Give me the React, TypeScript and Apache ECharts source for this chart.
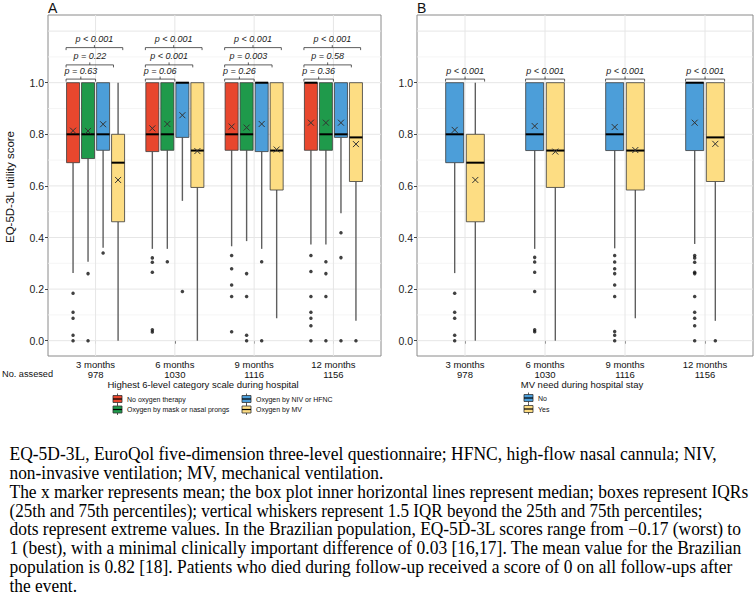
import React, { useEffect, useRef } from "react";
import * as echarts from "echarts";

// ---------- data ----------
const months = ["3 months", "6 months", "9 months", "12 months"];
const assessed = ["978", "1030", "1116", "1156"];
const yTickValues = [0, 0.2, 0.4, 0.6, 0.8, 1.0];
const majorGrid = [0, 0.2, 0.4, 0.6, 0.8, 1.0, 1.2];
const minorGrid = [0.1, 0.3, 0.5, 0.7, 0.9, 1.1];

const groupsA = ["No oxygen therapy", "Oxygen by mask or nasal prongs", "Oxygen by NIV or HFNC", "Oxygen by MV"];
const groupsB = ["No", "Yes"];

// [lower whisker, Q1, median, Q3, upper whisker] per month
const noOxygenStats = [
  [0.262, 0.690, 0.800, 1.0, 1.0],
  [0.356, 0.733, 0.800, 1.0, 1.0],
  [0.366, 0.738, 0.800, 1.0, 1.0],
  [0.373, 0.738, 1.0, 1.0, 1.0],
];
const noOxygenMeans = [0.814, 0.823, 0.830, 0.845];
const noOxygenOutliers = [
  [0.184, 0.110, 0.087, 0.021, 0],
  [0.321, 0.304, 0.265, 0.042, 0.034],
  [0.330, 0.279, 0.216, 0.171, 0.035],
  [0.330, 0.268, 0.171, 0.110, 0.087, 0.058, 0],
];

const maskStats = [
  [0.306, 0.706, 0.800, 1.0, 1.0],
  [0.356, 0.738, 0.800, 1.0, 1.0],
  [0.386, 0.738, 0.800, 1.0, 1.0],
  [0.373, 0.738, 0.800, 1.0, 1.0],
];
const maskMeans = [0.813, 0.840, 0.826, 0.845];
const maskOutliers = [
  [0.260, 0],
  [0.306],
  [0.260, 0.171, 0.021, 0],
  [0.306, 0.260, 0.171, 0],
];

const nivStats = [
  [0.360, 0.738, 0.800, 1.0, 1.0],
  [0.542, 0.788, 1.0, 1.0, 1.0],
  [0.356, 0.733, 1.0, 1.0, 1.0],
  [0.494, 0.788, 0.800, 1.0, 1.0],
];
const nivMeans = [0.839, 0.874, 0.840, 0.845];
const nivOutliers = [
  [0.340],
  [0.191],
  [0.306, 0],
  [0.418, 0.322, 0],
];

const mvStats = [
  [0, 0.461, 0.690, 0.800, 1.0],
  [0, 0.594, 0.737, 1.0, 1.0],
  [0.087, 0.584, 0.737, 1.0, 1.0],
  [0.077, 0.617, 0.788, 1.0, 1.0],
];
const mvMeans = [0.623, 0.735, 0.741, 0.762];
const mvOutliers = [[], [], [], [0]];

const noMvStats = [
  [0.262, 0.690, 0.800, 1.0, 1.0],
  [0.356, 0.737, 0.800, 1.0, 1.0],
  [0.358, 0.737, 0.800, 1.0, 1.0],
  [0.375, 0.737, 1.0, 1.0, 1.0],
];
const noMvMeans = [0.817, 0.832, 0.828, 0.845];
const noMvOutliers = [
  [0.184, 0.110, 0.087, 0.021, 0],
  [0.323, 0.305, 0.265, 0.191, 0.042, 0.035],
  [0.330, 0.305, 0.279, 0.260, 0.216, 0.171, 0.036, 0.021, 0],
  [0.330, 0.321, 0.304, 0.265, 0.260, 0.171, 0.110, 0.087, 0.058, 0],
];

const yesMvStats = [
  [0, 0.461, 0.690, 0.800, 1.0],
  [0, 0.594, 0.737, 1.0, 1.0],
  [0.087, 0.584, 0.737, 1.0, 1.0],
  [0.077, 0.617, 0.788, 1.0, 1.0],
];
const yesMvMeans = [0.623, 0.733, 0.739, 0.763];
const yesMvOutliers = [[], [], [], [0]];

// p-value labels per month: [top (1 vs 4), middle (1 vs 3), bottom (1 vs 2)]
const pValuesA = [
  ["p < 0.001", "p = 0.22", "p = 0.63"],
  ["p < 0.001", "p < 0.001", "p = 0.06"],
  ["p < 0.001", "p = 0.003", "p = 0.26"],
  ["p < 0.001", "p = 0.58", "p = 0.36"],
];
const pValuesB = ["p < 0.001", "p < 0.001", "p < 0.001", "p < 0.001"];

const captionLines = [
  "EQ-5D-3L, EuroQol five-dimension three-level questionnaire; HFNC, high-flow nasal cannula; NIV,",
  "non-invasive ventilation; MV, mechanical ventilation.",
  "The x marker represents mean; the box plot inner horizontal lines represent median; boxes represent IQRs",
  "(25th and 75th percentiles); vertical whiskers represent 1.5 IQR beyond the 25th and 75th percentiles;",
  "dots represent extreme values. In the Brazilian population, EQ-5D-3L scores range from \u22120.17 (worst) to",
  "1 (best), with a minimal clinically important difference of 0.03 [16,17]. The mean value for the Brazilian",
  "population is 0.82 [18]. Patients who died during follow-up received a score of 0 on all follow-ups after",
  "the event.",
];

// ---------- layout / style ----------
const RED = "#E8472E";
const GREEN = "#1F9A4B";
const BLUE = "#4C9ED9";
const YELLOW = "#FDDD83";
const SANS = "'Liberation Sans', Arial, Helvetica, sans-serif";
const SERIF = "'Liberation Serif', 'Times New Roman', serif";

const Y_MIN = -0.0593;
const Y_MAX = 1.2624;

const offsetsA = [-0.284, -0.095, 0.095, 0.284];
const boxWA = 0.164;
const offsetsB = [-0.129, 0.129];
const boxWB = 0.225;

const CAPTION_X = 9.5;
const CAPTION_FONT = 17.8;
// right end (px) of each caption line in the reference layout
const captionRightEdges = [717, 383, 748, 702, 741, 741, 732, 0];

function boxSeries(name: string, stats: number[][], means: number[], off: number, bw: number, color: string, gi: number) {
  const data = stats.map((s, i) => [i + 1 + off, s[0], s[1], s[2], s[3], s[4], means[i]]);
  return {
    type: "custom",
    name,
    xAxisIndex: gi,
    yAxisIndex: gi,
    z: 3,
    silent: true,
    data,
    encode: { x: 0, y: [1, 2, 3, 4, 5, 6] },
    renderItem: (params: any, api: any) => {
      const x = api.value(0);
      const lo = api.coord([x, api.value(1)]);
      const q1 = api.coord([x, api.value(2)]);
      const md = api.coord([x, api.value(3)]);
      const q3 = api.coord([x, api.value(4)]);
      const hi = api.coord([x, api.value(5)]);
      const mn = api.coord([x, api.value(6)]);
      const hw = api.size([bw, 0])[0] / 2;
      const cx = lo[0];
      const wStyle = { stroke: "#5f5f5f", lineWidth: 1.4 };
      const children: any[] = [
        { type: "line", shape: { x1: cx, y1: lo[1], x2: cx, y2: q1[1] }, style: wStyle },
        { type: "line", shape: { x1: cx, y1: q3[1], x2: cx, y2: hi[1] }, style: wStyle },
        {
          type: "rect",
          shape: { x: cx - hw, y: q3[1], width: hw * 2, height: q1[1] - q3[1] },
          style: { fill: color, stroke: "#3a3a3a", lineWidth: 0.8 },
        },
        { type: "line", shape: { x1: cx - hw, y1: md[1], x2: cx + hw, y2: md[1] }, style: { stroke: "#000", lineWidth: 2 } },
        { type: "line", shape: { x1: cx - 3, y1: mn[1] - 3, x2: cx + 3, y2: mn[1] + 3 }, style: { stroke: "#333", lineWidth: 1 } },
        { type: "line", shape: { x1: cx - 3, y1: mn[1] + 3, x2: cx + 3, y2: mn[1] - 3 }, style: { stroke: "#333", lineWidth: 1 } },
      ];
      return { type: "group", children };
    },
  };
}

function outlierSeries(outs: number[][], off: number, gi: number) {
  const data: number[][] = [];
  outs.forEach((arr, i) => arr.forEach((v) => data.push([i + 1 + off, v])));
  return {
    type: "scatter",
    xAxisIndex: gi,
    yAxisIndex: gi,
    z: 4,
    silent: true,
    symbol: "circle",
    symbolSize: 3.5,
    itemStyle: { color: "#111" },
    data,
  };
}

function gridSeries(gi: number) {
  const data: number[][] = [];
  majorGrid.forEach((v) => data.push([0, v, 1]));
  minorGrid.forEach((v) => data.push([0, v, 0]));
  [1, 2, 3, 4].forEach((v) => data.push([1, v, 1]));
  return {
    type: "custom",
    xAxisIndex: gi,
    yAxisIndex: gi,
    z: 1,
    silent: true,
    data,
    encode: { x: -1, y: -1 },
    renderItem: (params: any, api: any) => {
      const cs = params.coordSys;
      const kind = api.value(0);
      const v = api.value(1);
      const major = api.value(2) === 1;
      const style = { stroke: major ? "#E6E6E6" : "#F3F3F3", lineWidth: major ? 1 : 0.8 };
      if (kind === 0) {
        const p = api.coord([1, v]);
        return { type: "line", shape: { x1: cs.x, y1: p[1], x2: cs.x + cs.width, y2: p[1] }, style };
      }
      const p = api.coord([v, 0]);
      return { type: "line", shape: { x1: p[0], y1: cs.y, x2: p[0], y2: cs.y + cs.height }, style };
    },
  };
}

function bracketSeries(items: { m: number; s: number; e: number; y: number; label: string }[], gi: number) {
  return {
    type: "custom",
    xAxisIndex: gi,
    yAxisIndex: gi,
    z: 5,
    silent: true,
    data: items.map((it) => [it.m, it.s, it.e, it.y]),
    encode: { x: -1, y: -1 },
    renderItem: (params: any, api: any) => {
      const m = api.value(0);
      const y = api.value(3);
      const p1 = api.coord([m + api.value(1), y]);
      const p2 = api.coord([m + api.value(2), y]);
      const mid = (p1[0] + p2[0]) / 2;
      const ls = { stroke: "#333", lineWidth: 0.8, fill: "none" };
      return {
        type: "group",
        children: [
          {
            type: "polyline",
            shape: { points: [[p1[0], p1[1] + 2.5], [p1[0], p1[1]], [p2[0], p2[1]], [p2[0], p2[1] + 2.5]] },
            style: ls,
          },
          { type: "line", shape: { x1: mid, y1: p1[1], x2: mid, y2: p1[1] - 2.5 }, style: ls },
          {
            type: "text",
            x: mid,
            y: p1[1] - 8.5,
            style: {
              text: items[params.dataIndex].label,
              fontSize: 9,
              fontStyle: "italic",
              fontFamily: SANS,
              fill: "#222",
              align: "center",
              verticalAlign: "middle",
            },
          },
        ],
      };
    },
  };
}

function legendKey(x: number, y: number, color: string) {
  return {
    type: "group",
    children: [
      { type: "line", shape: { x1: x + 4.5, y1: y - 5.5, x2: x + 4.5, y2: y + 5.5 }, style: { stroke: "#333", lineWidth: 0.8 } },
      { type: "rect", shape: { x, y: y - 3.5, width: 9, height: 7 }, style: { fill: color, stroke: "#333", lineWidth: 0.8 } },
      { type: "line", shape: { x1: x, y1: y, x2: x + 9, y2: y }, style: { stroke: "#000", lineWidth: 1.2 } },
    ],
  };
}

function smallText(text: string, x: number, y: number, size: number, align = "left", extra: any = {}) {
  return {
    type: "text",
    x,
    y,
    style: { text, fontSize: size, fontFamily: SANS, fill: "#111", align, verticalAlign: "middle", ...extra },
  };
}

function captionScales(): number[] {
  let ctx: CanvasRenderingContext2D | null = null;
  try {
    ctx = document.createElement("canvas").getContext("2d");
  } catch (e) {
    ctx = null;
  }
  if (!ctx) return captionLines.map(() => 1);
  ctx.font = `${CAPTION_FONT}px 'Liberation Serif', 'Times New Roman', serif`;
  const raw = captionLines.map((line, i) => {
    const target = captionRightEdges[i];
    if (!target) return NaN;
    const w = ctx!.measureText(line).width;
    if (!w) return 1;
    return Math.max(0.9, Math.min(1.1, (target - CAPTION_X) / w));
  });
  const valid = raw.filter((v) => !isNaN(v));
  const avg = valid.reduce((a, b) => a + b, 0) / (valid.length || 1);
  return raw.map((v) => (isNaN(v) ? avg : v));
}

export default function App() {
  const ref = useRef<HTMLDivElement>(null);
  useEffect(() => {
    if (!ref.current) return;
    const chart = echarts.init(ref.current, undefined, { renderer: "svg" });

    const bracketsA: { m: number; s: number; e: number; y: number; label: string }[] = [];
    pValuesA.forEach((pv, i) => {
      bracketsA.push({ m: i + 1, s: -0.372, e: 0.343, y: 1.136, label: pv[0] });
      bracketsA.push({ m: i + 1, s: -0.372, e: 0.226, y: 1.069, label: pv[1] });
      bracketsA.push({ m: i + 1, s: -0.372, e: 0.0, y: 1.014, label: pv[2] });
    });
    const bracketsB = pValuesB.map((p, i) => ({ m: i + 1, s: -0.243, e: 0.245, y: 1.014, label: p }));

    const xAxis = [0, 1].map((gi) => ({
      type: "value",
      gridIndex: gi,
      min: 0.4,
      max: 4.6,
      axisLine: { show: false },
      splitLine: { show: false },
      axisTick: { show: true, customValues: [1, 2, 3, 4], length: 3, lineStyle: { color: "#444" } },
      axisLabel: {
        customValues: [1, 2, 3, 4],
        formatter: (v: number) => months[Math.round(v) - 1] + "\n" + assessed[Math.round(v) - 1],
        fontSize: 9.5,
        lineHeight: 9.5,
        color: "#111",
        fontFamily: SANS,
        margin: 4,
      },
    }));
    const yAxis = [0, 1].map((gi) => ({
      type: "value",
      gridIndex: gi,
      min: Y_MIN,
      max: Y_MAX,
      axisLine: { show: false },
      splitLine: { show: false },
      axisTick: { show: true, customValues: yTickValues, length: 3, lineStyle: { color: "#444" } },
      axisLabel: {
        customValues: yTickValues,
        formatter: (v: number) => v.toFixed(1),
        fontSize: 10.5,
        color: "#222",
        fontFamily: SANS,
        margin: 4,
      },
    }));

    const series: any[] = [
      gridSeries(0),
      gridSeries(1),
      boxSeries(groupsA[0], noOxygenStats, noOxygenMeans, offsetsA[0], boxWA, RED, 0),
      boxSeries(groupsA[1], maskStats, maskMeans, offsetsA[1], boxWA, GREEN, 0),
      boxSeries(groupsA[2], nivStats, nivMeans, offsetsA[2], boxWA, BLUE, 0),
      boxSeries(groupsA[3], mvStats, mvMeans, offsetsA[3], boxWA, YELLOW, 0),
      outlierSeries(noOxygenOutliers, offsetsA[0], 0),
      outlierSeries(maskOutliers, offsetsA[1], 0),
      outlierSeries(nivOutliers, offsetsA[2], 0),
      outlierSeries(mvOutliers, offsetsA[3], 0),
      boxSeries(groupsB[0], noMvStats, noMvMeans, offsetsB[0], boxWB, BLUE, 1),
      boxSeries(groupsB[1], yesMvStats, yesMvMeans, offsetsB[1], boxWB, YELLOW, 1),
      outlierSeries(noMvOutliers, offsetsB[0], 1),
      outlierSeries(yesMvOutliers, offsetsB[1], 1),
      bracketSeries(bracketsA, 0),
      bracketSeries(bracketsB, 1),
    ];

    const graphic: any[] = [
      smallText("A", 48, 8, 14),
      smallText("B", 417, 8, 14),
      {
        type: "text",
        x: 10,
        y: 187,
        rotation: Math.PI / 2,
        style: {
          text: "EQ-5D-3L utility score",
          fontSize: 11.5,
          fontFamily: SANS,
          fill: "#111",
          align: "center",
          verticalAlign: "middle",
        },
      },
      smallText("No. assesed", 2, 373.5, 9.2),
      smallText("Highest 6-level category scale during hospital", 203, 384, 9.5, "center"),
      smallText("MV need during hospital stay", 582, 384, 9.5, "center"),
      legendKey(113, 399, RED),
      smallText(groupsA[0], 127, 399, 7),
      legendKey(113, 409.5, GREEN),
      smallText(groupsA[1], 127, 409.5, 7),
      legendKey(242, 399, BLUE),
      smallText(groupsA[2], 256, 399, 7),
      legendKey(242, 409.5, YELLOW),
      smallText(groupsA[3], 256, 409.5, 7),
      legendKey(524, 398, BLUE),
      smallText(groupsB[0], 538, 398, 7),
      legendKey(524, 409, YELLOW),
      smallText(groupsB[1], 538, 409, 7),
    ];
    const scales = captionScales();
    captionLines.forEach((line, i) => {
      graphic.push({
        type: "text",
        x: CAPTION_X,
        y: 454 + i * 18.8,
        scaleX: scales[i],
        style: {
          text: line,
          fontSize: CAPTION_FONT,
          fontFamily: SERIF,
          fill: "#000",
          align: "left",
          verticalAlign: "middle",
        },
      });
    });

    chart.setOption({
      animation: false,
      backgroundColor: "#ffffff",
      grid: [
        { left: 48, top: 15, width: 333, height: 341, show: true, borderColor: "#8a8a8a", borderWidth: 1, backgroundColor: "#fff" },
        { left: 417, top: 15, width: 336, height: 341, show: true, borderColor: "#8a8a8a", borderWidth: 1, backgroundColor: "#fff" },
      ],
      xAxis,
      yAxis,
      series,
      graphic,
    });
    return () => chart.dispose();
  }, []);
  return (
    <div
      ref={ref}
      style={{ position: "absolute", left: 0, top: 0, width: 756, height: 606, background: "#fff" }}
    />
  );
}
